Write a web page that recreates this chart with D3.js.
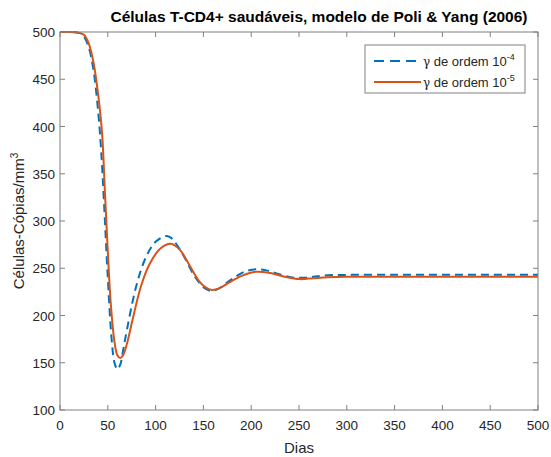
<!DOCTYPE html>
<html><head><meta charset="utf-8">
<script src="https://cdn.jsdelivr.net/npm/d3@7"></script>
<style>body{margin:0;background:#fff;}svg{display:block;font-family:"Liberation Sans",Arial,Helvetica,sans-serif;}</style>
</head><body>
<svg id="c" width="551" height="457"></svg>
<script>
const xTicks = [0,50,100,150,200,250,300,350,400,450,500];
const yTicks = [100,150,200,250,300,350,400,450,500];
const daysBlue = [0,10,20,25,30,35,40,43,46,50,54,57,60,63,66,70,80,90,100,110,115,120,130,140,150,158,165,175,185,195,205,215,225,235,245,255,265,280,300,350,400,450,500];
const valsBlue = [500,500,499,495,484,460,415,375,320,240,175,150,143,148,163,185,232,262,278,284,283,278,262,243,230,226,228,235,242,247,249,248,245,242,240,240,241,242.5,243,243,243,243,243];
const daysRed = [0,10,20,25,30,35,40,44,47,50,53,57,60,63,66,70,76,85,94,105,116,125,135,145,152,159,167,177,190,205,220,235,251,265,280,300,350,400,450,500];
const valsRed = [500,500,499,497,488,468,433,393,330,268,214,172,158,155,158,170,196,232,255,271,276,270,254,237,230,227,229,235,242,246.3,245,241,238.5,239.5,240.5,241,241,241,241,241];
const seriesNames = ["de ordem 10", "de ordem 10"];
const seriesExp = ["-4", "-5"];

const svg = d3.select("#c");
const L=60, R=538, T=32, B=410;
const x = d3.scaleLinear().domain([0,500]).range([L,R]);
const y = d3.scaleLinear().domain([100,500]).range([B,T]);
const axisCol = "#808080", textCol = "#262626";
const tickFs = 13.5;

const g = svg.append("g");
xTicks.forEach(t=>{
  g.append("line").attr("x1",x(t)).attr("x2",x(t)).attr("y1",B).attr("y2",B-5).attr("stroke",axisCol);
  g.append("line").attr("x1",x(t)).attr("x2",x(t)).attr("y1",T).attr("y2",T+5).attr("stroke",axisCol);
  g.append("text").attr("x",x(t)).attr("y",B+20).attr("text-anchor","middle").attr("font-size",tickFs).attr("fill",textCol).text(t);
});
yTicks.forEach(t=>{
  g.append("line").attr("x1",L).attr("x2",L+5).attr("y1",y(t)).attr("y2",y(t)).attr("stroke",axisCol);
  g.append("line").attr("x1",R).attr("x2",R-5).attr("y1",y(t)).attr("y2",y(t)).attr("stroke",axisCol);
  g.append("text").attr("x",L-5).attr("y",y(t)+5).attr("text-anchor","end").attr("font-size",tickFs).attr("fill",textCol).text(t);
});

const line = d3.line().x(d=>x(d[0])).y(d=>y(d[1])).curve(d3.curveCatmullRom.alpha(0.5));
svg.append("clipPath").attr("id","cp").append("rect").attr("x",L).attr("y",T-1).attr("width",R-L).attr("height",B-T+1);
svg.append("path").datum(daysBlue.map((d,i)=>[d,valsBlue[i]])).attr("d",line).attr("clip-path","url(#cp)")
  .attr("fill","none").attr("stroke","#0072BD").attr("stroke-width",2).attr("stroke-dasharray","8,5");
svg.append("path").datum(daysRed.map((d,i)=>[d,valsRed[i]])).attr("d",line).attr("clip-path","url(#cp)")
  .attr("fill","none").attr("stroke","#D95319").attr("stroke-width",2);

svg.append("rect").attr("x",L).attr("y",T).attr("width",R-L).attr("height",B-T).attr("fill","none").attr("stroke",axisCol);

svg.append("text").attr("x",(L+R)/2+20).attr("y",22).attr("text-anchor","middle").attr("font-size",15.5).attr("font-weight","bold").attr("fill","#000").text("Células T-CD4+ saudáveis, modelo de Poli & Yang (2006)");
svg.append("text").attr("x",(L+R)/2).attr("y",453).attr("text-anchor","middle").attr("font-size",15).attr("fill",textCol).text("Dias");
const yl = svg.append("text").attr("transform",`translate(24,${(T+B)/2}) rotate(-90)`).attr("text-anchor","middle").attr("font-size",15).attr("fill",textCol);
yl.append("tspan").text("Células-Cópias/mm");
yl.append("tspan").attr("font-size",10).attr("dy",-6).text("3");

const lg = svg.append("g");
lg.append("rect").attr("x",365).attr("y",45).attr("width",160).attr("height",48).attr("fill","#fff").attr("stroke",axisCol);
const cols = ["#0072BD","#D95319"], dashes=["10,6",null], rows=[61,82];
rows.forEach((ry,i)=>{
  const ln = lg.append("line").attr("x1",374).attr("x2",421).attr("y1",ry).attr("y2",ry).attr("stroke",cols[i]).attr("stroke-width",2);
  if(dashes[i]) ln.attr("stroke-dasharray",dashes[i]);
  const t = lg.append("text").attr("x",423).attr("y",ry+5).attr("font-size",13).attr("fill",textCol);
  t.append("tspan").attr("font-family","'DejaVu Serif',serif").attr("font-size",12).text("γ");
  t.append("tspan").text(" " + seriesNames[i]);
  t.append("tspan").attr("font-size",9).attr("dy",-6).text(seriesExp[i]);
});
</script>
</body></html>
